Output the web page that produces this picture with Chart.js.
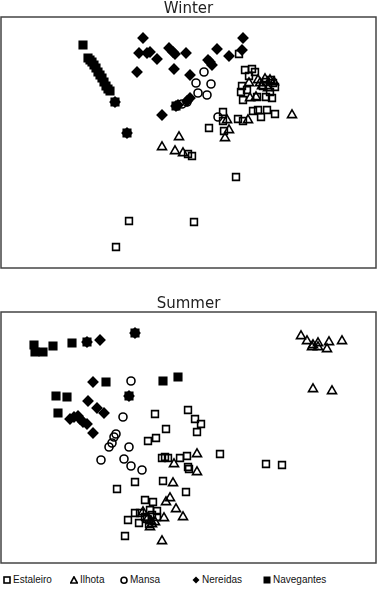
<!DOCTYPE html>
<html>
<head>
<meta charset="utf-8">
<script src="https://cdn.jsdelivr.net/npm/chart.js"></script>
<style>
  body { margin: 0; background: #fff; width: 377px; height: 594px; overflow: hidden; position: relative; }
  canvas { position: absolute; left: 0; }
  #legend { position: absolute; top: 571px; left: 0; width: 377px; height: 20px;
            font-family: "Liberation Sans", Arial, sans-serif; font-size: 10px; color: #111; }
  #legend span { position: absolute; top: 3px; white-space: nowrap; }
  #legend svg { position: absolute; top: 5px; }
</style>
</head>
<body>
<canvas id="winter" width="377" height="269" style="top:0"></canvas>
<canvas id="summer" width="377" height="269" style="top:295px"></canvas>
<div id="legend"></div>
<script>
// values, in the plot frame of each panel
var groups = ['Estaleiro', 'Ilhota', 'Mansa', 'Nereidas', 'Navegantes'];

var winterEstaleiro = [[239,54],[245,70],[252,69],[255,72],[249,76],[242,86],[241,92],[247,90],[243,100],[257,97],
  [266,97],[272,98],[271,80],[275,87],[270,92],[263,86],[258,110],[261,117],[267,110],[275,114],[253,111],
  [223,112],[223,121],[224,131],[209,128],[238,119],[243,121],[192,156],[188,154],[236,177],[129,221],
  [194,222],[116,247],[266,82],[273,83]];
var winterIlhota = [[292,115],[179,137],[162,147],[175,151],[183,153],[227,120],[229,130],[225,138],[248,120],
  [250,98],[256,97],[258,80],[249,83],[260,83],[265,79],[262,86],[270,80],[274,82],[268,88]];
var winterMansa = [[204,72],[196,83],[211,84],[198,93],[207,95],[182,104],[187,102],[218,117]];
var winterNereidas = [[143,38],[139,53],[147,53],[150,52],[157,59],[169,48],[173,52],[175,54],[186,53],[137,72],
  [174,69],[190,75],[217,49],[229,56],[243,38],[242,50],[208,60],[210,62],[212,65],[162,115],[190,98],
  [187,101],[176,106],[178,105],[115,102],[127,133]];
var winterNavegantes = [[83,45],[88,58],[90,60],[92,62],[94,65],[96,68],[98,72],[100,75],[102,78],[104,82],
  [106,86],[108,89],[110,91],[115,102],[127,133],[176,106]];

var summerEstaleiro = [[155,414],[188,410],[195,419],[201,424],[197,432],[166,429],[156,438],[148,441],[162,458],
  [165,457],[168,458],[180,458],[187,456],[188,467],[189,469],[220,454],[266,464],[282,465],[135,482],[117,489],
  [163,481],[186,492],[145,500],[153,502],[135,513],[140,513],[150,510],[157,511],[128,520],[139,523],[147,519],
  [157,517],[125,536],[145,517],[152,515],[149,524]];
var summerIlhota = [[301,336],[307,341],[313,345],[318,343],[318,347],[329,342],[327,349],[342,341],[312,347],
  [313,389],[332,391],[197,454],[174,464],[197,472],[173,483],[170,498],[166,502],[176,509],[183,517],[164,518],
  [143,512],[152,524],[162,541],[148,518],[151,521],[155,522],[150,527]];
var summerMansa = [[131,381],[123,417],[116,434],[114,437],[112,443],[109,447],[129,447],[101,460],[124,459],
  [131,466],[142,470]];
var summerNereidas = [[100,340],[87,342],[135,333],[93,382],[88,401],[97,408],[104,413],[70,419],[74,417],
  [78,416],[80,419],[83,422],[87,424],[93,433],[129,396]];
var summerNavegantes = [[34,345],[35,352],[43,352],[53,346],[72,343],[87,342],[135,333],[106,382],[56,396],
  [67,397],[58,413],[163,381],[178,377],[129,396]];

var styles = [
  { pointStyle: 'rect', pointRadius: 4.8, fill: 'rgba(0,0,0,0)' },
  { pointStyle: 'triangle', pointRadius: 5.2, fill: 'rgba(0,0,0,0)' },
  { pointStyle: 'circle', pointRadius: 4, fill: 'rgba(0,0,0,0)' },
  { pointStyle: 'rectRot', pointRadius: 4.8, fill: '#000' },
  { pointStyle: 'rect', pointRadius: 5.3, fill: '#000' }
];

function toPoints(arr) {
  return arr.map(function (p) { return { x: p[0], y: p[1] }; });
}

// box round the plot area
var frame = {
  id: 'frame',
  beforeDatasetsDraw: function (chart) {
    var a = chart.chartArea, c = chart.ctx;
    c.save();
    c.strokeStyle = '#444';
    c.lineWidth = 1.5;
    c.strokeRect(a.left, a.top, a.right - a.left, a.bottom - a.top);
    c.restore();
  }
};

function makeChart(id, title, series, yMin, yMax) {
  var datasets = series.map(function (s, i) {
    return {
      label: groups[i],
      data: toPoints(s),
      pointStyle: styles[i].pointStyle,
      pointRadius: styles[i].pointRadius,
      pointHoverRadius: styles[i].pointRadius,
      pointBorderWidth: 1.6,
      borderColor: '#000',
      backgroundColor: styles[i].fill,
      clip: false
    };
  });
  return new Chart(document.getElementById(id), {
    type: 'scatter',
    data: { datasets: datasets },
    options: {
      responsive: false,
      animation: false,
      devicePixelRatio: 1,
      layout: { autoPadding: false, padding: { left: 1, right: 1, top: 0, bottom: 1 } },
      plugins: {
        legend: { display: false },
        tooltip: { enabled: false },
        title: {
          display: true,
          text: title,
          color: '#222',
          font: { family: 'DejaVu Sans', size: 15, weight: 'normal', lineHeight: 1.0 },
          padding: { top: 2, bottom: 0 }
        }
      },
      scales: {
        x: { type: 'linear', min: 1, max: 376, display: false },
        y: { type: 'linear', min: yMin, max: yMax, reverse: true, display: false }
      }
    },
    plugins: [frame]
  });
}

makeChart('winter', 'Winter',
  [winterEstaleiro, winterIlhota, winterMansa, winterNereidas, winterNavegantes], 17, 268);
makeChart('summer', 'Summer',
  [summerEstaleiro, summerIlhota, summerMansa, summerNereidas, summerNavegantes], 312, 563);

// legend under the two panels
var legendX = [3, 70, 120, 192, 263];
var legendMarks = [
  '<rect x="1" y="1" width="6" height="6" fill="none" stroke="#000" stroke-width="1.6"/>',
  '<polygon points="4,0.8 7.4,7 0.6,7" fill="none" stroke="#000" stroke-width="1.6"/>',
  '<circle cx="4" cy="4.2" r="3" fill="none" stroke="#000" stroke-width="1.6"/>',
  '<polygon points="4,0.5 7.5,4 4,7.5 0.5,4" fill="#000"/>',
  '<rect x="0.5" y="0.5" width="7" height="7" fill="#000"/>'
];
var legend = document.getElementById('legend');
groups.forEach(function (g, i) {
  legend.innerHTML += '<svg width="8" height="8" style="left:' + legendX[i] + 'px">' + legendMarks[i] + '</svg>' +
    '<span style="left:' + (legendX[i] + 10) + 'px">' + g + '</span>';
});
</script>
</body>
</html>
